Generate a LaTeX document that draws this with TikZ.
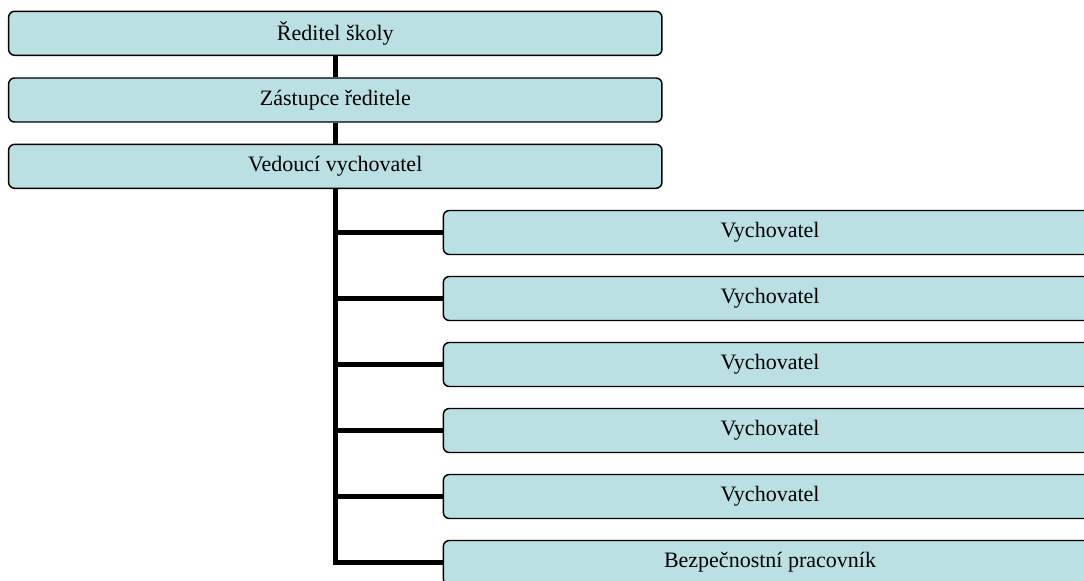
\documentclass[tikz,border=0pt]{standalone}
\usepackage{fontspec}
\setmainfont{Liberation Serif}
\definecolor{boxfill}{RGB}{187,224,227}
\begin{document}
\begin{tikzpicture}[x=0.75pt,y=-0.75pt,
  orgbox/.style={draw=black,fill=boxfill,line width=1.1pt,rounded corners=4.5pt,
    minimum width=490pt,minimum height=33pt,inner sep=0pt,font=\fontsize{16.5}{19}\selectfont,text=black},
  link/.style={line width=3.9pt,draw=black}]
\useasboundingbox (0,0) rectangle (1084,581);
\clip (0,0) rectangle (1084,581);
\node[orgbox] (r) at (335.3,33.3) {Ředitel školy};
\node[orgbox] (z) at (335.3,100) {Zástupce ředitele};
\node[orgbox] (v) at (335.3,166.3) {Vedoucí vychovatel};
\node[orgbox] (c1) at (770,232.5) {Vychovatel};
\node[orgbox] (c2) at (770,298.5) {Vychovatel};
\node[orgbox] (c3) at (770,364.5) {Vychovatel};
\node[orgbox] (c4) at (770,430.5) {Vychovatel};
\node[orgbox] (c5) at (770,496.5) {Vychovatel};
\node[orgbox] (c6) at (770,562.5) {Bezpečnostní pracovník};
\draw[link] (r.south) -- (z.north);
\draw[link] (z.south) -- (v.north);
\draw[link] (v.south) |- (c6.west);
\foreach \c in {c1,c2,c3,c4,c5}
  \draw[link] (v.south |- \c.west) -- (\c.west);
\end{tikzpicture}
\end{document}
